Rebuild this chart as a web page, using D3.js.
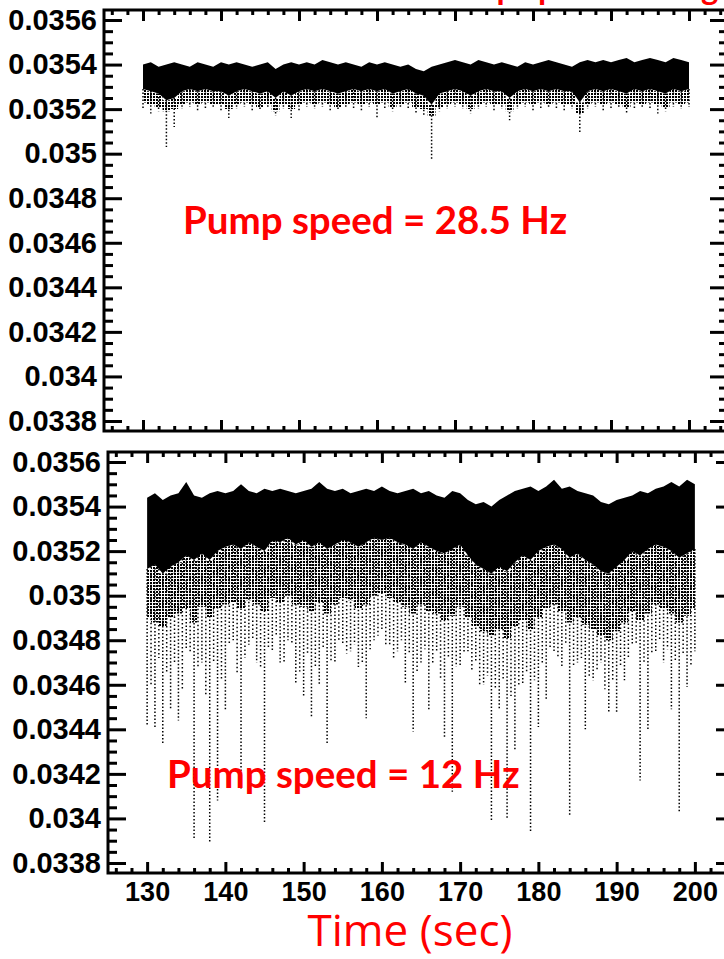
<!DOCTYPE html>
<html>
<head>
<meta charset="utf-8">
<script src="https://cdn.jsdelivr.net/npm/d3@7"></script>
<style>
  html, body { margin: 0; padding: 0; background: #fff; }
  svg { display: block; }
</style>
</head>
<body>
<div id="chart"></div>
<script>
// Sampling instants (seconds) for the envelopes below
const times = d3.range(130, 201);            // 130 .. 200, one per second
const halfTimes = d3.range(130.5, 200, 1);   // 130.5 .. 199.5

// Y-axis tick labels (shared by both panels)
const yTickLabels = ["0.0338","0.034","0.0342","0.0344","0.0346","0.0348","0.035","0.0352","0.0354","0.0356"];
// X-axis tick labels (lower panel only)
const xTickLabels = ["130","140","150","160","170","180","190","200"];

// Pump speed = 28.5 Hz : upper edge of the trace
const fastHi = [
  0.03540,0.03541,0.03539,0.03540,0.03541,0.03540,0.03539,0.03541,0.03540,0.03539,0.03541,
  0.03540,0.03541,0.03540,0.03539,0.03540,0.03541,0.03538,0.03540,0.03541,0.03540,
  0.03541,0.03540,0.03542,0.03541,0.03540,0.03541,0.03540,0.03539,0.03541,0.03540,
  0.03541,0.03540,0.03539,0.03540,0.03538,0.03537,0.03539,0.03540,0.03541,0.03542,
  0.03541,0.03540,0.03542,0.03541,0.03540,0.03541,0.03540,0.03539,0.03541,0.03540,
  0.03541,0.03542,0.03541,0.03540,0.03539,0.03541,0.03542,0.03541,0.03542,0.03541,
  0.03542,0.03543,0.03541,0.03542,0.03543,0.03542,0.03541,0.03543,0.03542,0.03541
];
// Pump speed = 28.5 Hz : lower edge of the solid core
const fastCore = [
  0.03529,0.03528,0.03527,0.03524,0.03525,0.03528,0.03529,0.03528,0.03529,0.03528,0.03528,
  0.03526,0.03528,0.03529,0.03528,0.03527,0.03528,0.03525,0.03528,0.03526,0.03528,
  0.03529,0.03528,0.03529,0.03528,0.03527,0.03528,0.03529,0.03528,0.03529,0.03528,
  0.03529,0.03527,0.03528,0.03529,0.03527,0.03526,0.03522,0.03527,0.03528,0.03529,
  0.03528,0.03526,0.03528,0.03529,0.03528,0.03528,0.03525,0.03528,0.03529,0.03528,
  0.03529,0.03528,0.03529,0.03528,0.03528,0.03523,0.03528,0.03529,0.03528,0.03529,
  0.03528,0.03527,0.03529,0.03528,0.03529,0.03528,0.03527,0.03529,0.03528,0.03529
];
// Pump speed = 28.5 Hz : lower edge of the scattered points
const fastMid = [
  0.03523,0.03522,0.03521,0.03519,0.03520,0.03522,0.03523,0.03522,0.03523,0.03522,0.03522,
  0.03520,0.03522,0.03523,0.03522,0.03521,0.03522,0.03519,0.03522,0.03520,0.03522,
  0.03523,0.03522,0.03523,0.03522,0.03521,0.03522,0.03523,0.03522,0.03523,0.03522,
  0.03523,0.03521,0.03522,0.03523,0.03521,0.03520,0.03517,0.03521,0.03522,0.03523,
  0.03522,0.03520,0.03522,0.03523,0.03522,0.03522,0.03519,0.03522,0.03523,0.03522,
  0.03523,0.03522,0.03523,0.03522,0.03522,0.03518,0.03522,0.03523,0.03522,0.03523,
  0.03522,0.03521,0.03523,0.03522,0.03523,0.03522,0.03521,0.03523,0.03522,0.03523
];
// Pump speed = 28.5 Hz : deepest excursion in each second
const fastLo = [
  0.03520,0.03518,0.03519,0.03503,0.03512,0.03520,0.03521,0.03519,0.03520,0.03521,0.03519,
  0.03516,0.03520,0.03521,0.03519,0.03520,0.03521,0.03517,0.03520,0.03516,0.03519,
  0.03521,0.03520,0.03521,0.03519,0.03520,0.03521,0.03520,0.03519,0.03521,0.03516,
  0.03520,0.03519,0.03521,0.03520,0.03518,0.03517,0.03497,0.03519,0.03520,0.03521,
  0.03520,0.03518,0.03520,0.03521,0.03519,0.03520,0.03515,0.03520,0.03521,0.03519,
  0.03520,0.03521,0.03520,0.03519,0.03520,0.03509,0.03520,0.03521,0.03519,0.03520,
  0.03521,0.03518,0.03520,0.03521,0.03520,0.03518,0.03519,0.03521,0.03520,0.03521
];

// Pump speed = 12 Hz : upper edge of the trace
const slowHi = [
  0.03544,0.03546,0.03543,0.03545,0.03546,0.03551,0.03545,0.03544,0.03546,0.03547,0.03546,
  0.03547,0.03550,0.03547,0.03546,0.03548,0.03547,0.03548,0.03547,0.03546,0.03547,
  0.03548,0.03551,0.03548,0.03547,0.03548,0.03546,0.03547,0.03548,0.03547,0.03549,
  0.03547,0.03546,0.03547,0.03548,0.03546,0.03547,0.03545,0.03544,0.03547,0.03546,
  0.03543,0.03541,0.03542,0.03540,0.03543,0.03545,0.03547,0.03548,0.03549,0.03547,
  0.03549,0.03552,0.03548,0.03549,0.03547,0.03546,0.03545,0.03542,0.03541,0.03543,
  0.03544,0.03545,0.03547,0.03546,0.03548,0.03549,0.03551,0.03549,0.03552,0.03550
];
// Pump speed = 12 Hz : lower edge of the solid core
const slowCore = [
  0.03512,0.03514,0.03510,0.03513,0.03515,0.03518,0.03516,0.03519,0.03516,0.03520,0.03522,
  0.03523,0.03521,0.03524,0.03522,0.03520,0.03525,0.03524,0.03526,0.03523,0.03525,
  0.03522,0.03524,0.03521,0.03523,0.03525,0.03524,0.03522,0.03524,0.03526,0.03525,
  0.03526,0.03524,0.03523,0.03521,0.03524,0.03522,0.03520,0.03519,0.03521,0.03523,
  0.03518,0.03514,0.03512,0.03510,0.03513,0.03511,0.03515,0.03518,0.03516,0.03520,
  0.03522,0.03523,0.03521,0.03517,0.03519,0.03516,0.03514,0.03511,0.03510,0.03513,
  0.03516,0.03520,0.03518,0.03521,0.03523,0.03522,0.03520,0.03517,0.03519,0.03521
];
// Pump speed = 12 Hz : lower edge of the scattered points
const slowMid = [
  0.03490,0.03488,0.03486,0.03490,0.03492,0.03494,0.03488,0.03495,0.03490,0.03494,0.03496,
  0.03497,0.03494,0.03498,0.03496,0.03493,0.03499,0.03497,0.03500,0.03496,0.03495,
  0.03493,0.03497,0.03492,0.03496,0.03499,0.03498,0.03494,0.03496,0.03500,0.03501,
  0.03499,0.03497,0.03495,0.03492,0.03496,0.03493,0.03492,0.03489,0.03491,0.03495,
  0.03490,0.03486,0.03484,0.03482,0.03485,0.03481,0.03486,0.03489,0.03485,0.03490,
  0.03494,0.03496,0.03493,0.03488,0.03490,0.03487,0.03485,0.03482,0.03480,0.03484,
  0.03488,0.03493,0.03489,0.03492,0.03496,0.03494,0.03492,0.03488,0.03491,0.03494
];
// Pump speed = 12 Hz : deepest excursion in each second
const slowLo = [
  0.03442,0.03441,0.03433,0.03449,0.03444,0.03476,0.03391,0.03470,0.03389,0.03408,0.03449,
  0.03480,0.03413,0.03478,0.03470,0.03398,0.03475,0.03470,0.03480,0.03461,0.03455,
  0.03445,0.03460,0.03433,0.03470,0.03478,0.03475,0.03468,0.03445,0.03480,0.03485,
  0.03478,0.03475,0.03461,0.03439,0.03470,0.03449,0.03475,0.03436,0.03412,0.03468,
  0.03475,0.03470,0.03460,0.03399,0.03449,0.03400,0.03431,0.03460,0.03394,0.03441,
  0.03453,0.03475,0.03468,0.03401,0.03470,0.03440,0.03462,0.03470,0.03448,0.03447,
  0.03462,0.03478,0.03417,0.03440,0.03475,0.03470,0.03449,0.03403,0.03459,0.03475
];
// Pump speed = 12 Hz : secondary downward streaks between the whole seconds
const slowLoHalf = [
  0.03460,0.03472,0.03466,0.03470,0.03458,0.03475,0.03468,0.03455,0.03470,0.03462,
  0.03478,0.03465,0.03472,0.03480,0.03468,0.03476,0.03482,0.03470,0.03478,0.03466,
  0.03474,0.03468,0.03476,0.03470,0.03480,0.03474,0.03478,0.03470,0.03476,0.03482,
  0.03478,0.03472,0.03480,0.03474,0.03466,0.03476,0.03470,0.03462,0.03472,0.03468,
  0.03474,0.03466,0.03460,0.03464,0.03458,0.03462,0.03455,0.03460,0.03466,0.03462,
  0.03470,0.03476,0.03472,0.03478,0.03468,0.03472,0.03464,0.03466,0.03458,0.03462,
  0.03468,0.03472,0.03478,0.03470,0.03474,0.03480,0.03476,0.03470,0.03474,0.03468
];

const W = 724, H = 959;
const svg = d3.select("#chart").append("svg").attr("width", W).attr("height", H);

// Dotted fill for the region of scattered points
const defs = svg.append("defs");
const pat = defs.append("pattern").attr("id", "scatter")
  .attr("patternUnits", "userSpaceOnUse").attr("width", 3).attr("height", 3);
pat.append("rect").attr("x", 0).attr("y", 0).attr("width", 2).attr("height", 2).attr("fill", "#000");

const yDomain = [0.033755, 0.035645];
const yMajor = yTickLabels.map(Number);
const yMinor = d3.range(0, 37).map(i => 0.0338 + i * 0.00005).filter(v => !yMajor.some(m => Math.abs(m - v) < 1e-9));
const xMajor = xTickLabels.map(Number);
const xMinor = d3.range(126, 205, 2).filter(v => v % 10 !== 0);

const panels = [
  { id: "fast", left: 104, right: 728, top: 10, bottom: 431, hi: fastHi, core: fastCore, mid: fastMid, lo: fastLo, half: null, xLabels: false },
  { id: "slow", left: 108, right: 734, top: 452, bottom: 873, hi: slowHi, core: slowCore, mid: slowMid, lo: slowLo, half: slowLoHalf, xLabels: true }
];

const labelFont = "'Liberation Sans', Arial, Helvetica, sans-serif";

panels.forEach(p => {
  const x = d3.scaleLinear().domain([125, 205]).range([p.left, p.right]);
  const y = d3.scaleLinear().domain(yDomain).range([p.bottom, p.top]);
  const g = svg.append("g");

  defs.append("clipPath").attr("id", "clip-" + p.id)
    .append("rect").attr("x", p.left).attr("y", p.top)
    .attr("width", p.right - p.left).attr("height", p.bottom - p.top);
  const plot = g.append("g").attr("clip-path", `url(#clip-${p.id})`);

  const rows = times.map((t, i) => ({ t, hi: p.hi[i], core: p.core[i], mid: p.mid[i], lo: p.lo[i] }));

  // scattered points below the core
  plot.append("path").datum(rows)
    .attr("d", d3.area().x(d => x(d.t)).y0(d => y(d.mid)).y1(d => y(d.core)).curve(d3.curveStep))
    .attr("fill", "url(#scatter)");

  // downward excursions
  plot.selectAll("line.spike").data(rows).join("line").attr("class", "spike")
    .attr("x1", d => x(d.t)).attr("x2", d => x(d.t))
    .attr("y1", d => y(d.core)).attr("y2", d => y(d.lo))
    .attr("stroke", "#000").attr("stroke-width", 1.5).attr("stroke-dasharray", "1.5,2");

  if (p.half) {
    const hrows = halfTimes.map((t, i) => ({ t, lo: p.half[i], core: (p.core[i] + p.core[i + 1]) / 2 }));
    plot.selectAll("line.half").data(hrows).join("line").attr("class", "half")
      .attr("x1", d => x(d.t)).attr("x2", d => x(d.t))
      .attr("y1", d => y(d.core)).attr("y2", d => y(d.lo))
      .attr("stroke", "#000").attr("stroke-width", 1.5).attr("stroke-dasharray", "1.5,2.5");
  }

  // dense core of the trace
  plot.append("path").datum(rows)
    .attr("d", d3.area().x(d => x(d.t)).y0(d => y(d.core)).y1(d => y(d.hi)).curve(d3.curveLinear))
    .attr("fill", "#000");

  // ticks on all four sides, pointing inward
  const tickStyle = sel => {
    sel.select(".domain").remove();
    sel.selectAll(".tick line").attr("stroke", "#000").attr("stroke-width", 3);
  };
  g.append("g").attr("transform", `translate(${p.left},0)`)
    .call(d3.axisLeft(y).tickValues(yMajor).tickSize(-18).tickPadding(7).tickFormat((d, i) => yTickLabels[i]))
    .call(tickStyle)
    .call(s => s.selectAll("text").attr("font-family", labelFont).attr("font-weight", "bold")
      .attr("font-size", 29).attr("fill", "#000"));
  g.append("g").attr("transform", `translate(${p.left},0)`)
    .call(d3.axisLeft(y).tickValues(yMinor).tickSize(-9).tickFormat(""))
    .call(tickStyle);
  g.append("g").attr("transform", `translate(${p.right},0)`)
    .call(d3.axisRight(y).tickValues(yMajor).tickSize(-18).tickFormat(""))
    .call(tickStyle);
  g.append("g").attr("transform", `translate(${p.right},0)`)
    .call(d3.axisRight(y).tickValues(yMinor).tickSize(-9).tickFormat(""))
    .call(tickStyle);
  g.append("g").attr("transform", `translate(0,${p.top})`)
    .call(d3.axisTop(x).tickValues(xMajor).tickSize(-11).tickFormat(""))
    .call(tickStyle);
  g.append("g").attr("transform", `translate(0,${p.top})`)
    .call(d3.axisTop(x).tickValues(xMinor).tickSize(-5).tickFormat(""))
    .call(tickStyle);
  const bx = g.append("g").attr("transform", `translate(0,${p.bottom})`)
    .call(d3.axisBottom(x).tickValues(xMajor).tickSize(-11).tickPadding(6)
      .tickFormat((d, i) => p.xLabels ? xTickLabels[i] : ""))
    .call(tickStyle);
  bx.selectAll("text").attr("font-family", labelFont).attr("font-weight", "bold")
    .attr("font-size", 27).attr("fill", "#000").attr("dy", "0.8em");
  g.append("g").attr("transform", `translate(0,${p.bottom})`)
    .call(d3.axisBottom(x).tickValues(xMinor).tickSize(-5).tickFormat(""))
    .call(tickStyle);

  // frame
  g.append("rect").attr("x", p.left).attr("y", p.top)
    .attr("width", p.right - p.left).attr("height", p.bottom - p.top)
    .attr("fill", "none").attr("stroke", "#000").attr("stroke-width", 3);
});

const redFont = "Lato, 'Open Sans', sans-serif";
svg.append("text").attr("x", 183).attr("y", 234)
  .attr("font-family", redFont).attr("font-weight", "bold").attr("font-size", 38.5)
  .attr("fill", "#ff0000").text("Pump speed = 28.5 Hz");
svg.append("text").attr("x", 167).attr("y", 788)
  .attr("font-family", redFont).attr("font-weight", "bold").attr("font-size", 38.5)
  .attr("fill", "#ff0000").text("Pump speed = 12 Hz");
// heading above the figure: only its descenders fall inside the page
svg.append("text").attr("x", 430).attr("y", -0.5)
  .attr("font-family", redFont).attr("font-weight", "bold").attr("font-size", 33)
  .attr("fill", "#ff0000").text("Pump speed setting");
svg.append("text").attr("x", 410).attr("y", 946).attr("text-anchor", "middle")
  .attr("font-family", "'Comic Sans MS', 'Open Sans', sans-serif").attr("font-size", 44)
  .attr("fill", "#ff0000").text("Time (sec)");
</script>
</body>
</html>
